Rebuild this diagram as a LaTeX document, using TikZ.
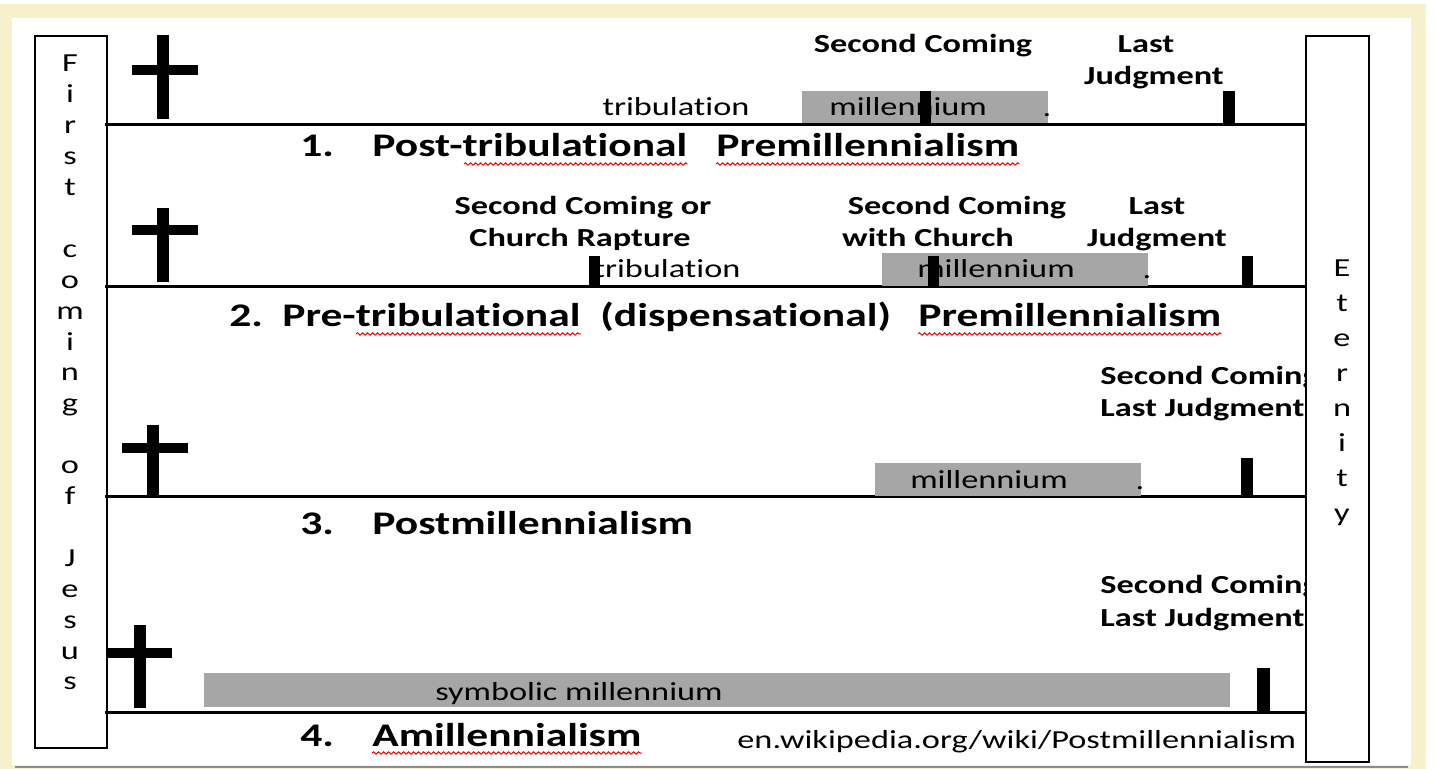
\documentclass[tikz,border=0pt]{standalone}
\usepackage{fontspec}
\setmainfont[FakeStretch=1.32,Ligatures={NoCommon,NoContextual,NoRequired}]{Carlito}
\usetikzlibrary{decorations.pathmorphing,calc}
\definecolor{cream}{RGB}{246,241,204}
\definecolor{bargray}{RGB}{166,166,166}
\definecolor{rulegray}{RGB}{140,140,140}
\tikzset{
 lbl/.style={inner sep=0pt, font=\fontsize{13}{16}\selectfont\bfseries},
 txt/.style={inner sep=0pt, font=\fontsize{13}{16}\selectfont},
 ttl/.style={inner sep=0pt, font=\fontsize{16.5}{20}\selectfont\bfseries, anchor=base west},
 bar/.style={fill=bargray, draw=none},
 tickbar/.style={fill=black, draw=none},
 timeline/.style={line width=1.5pt},
 sidebox/.style={draw=black, line width=1pt, fill=white, inner sep=0pt, anchor=north west},
 wavy/.style={draw=red, line width=0.5pt, decorate, decoration={snake, amplitude=0.6pt, segment length=2.5pt}},
}
\begin{document}
\begin{tikzpicture}[x=0.5pt,y=-0.5pt]
\useasboundingbox (0,0) rectangle (1435,769);
\fill[white] (0,0) rectangle (1435,769);
\fill[cream] (0,4) rectangle (1426,769);
\fill[white] (12,18) rectangle (1411,765);
\draw[rulegray, line width=1.2pt] (15,767) -- (1408,767);

% left box
\node[sidebox, minimum width=36pt, minimum height=356pt] (first) at (34,35) {};
\foreach \ch [count=\i from 0] in {F,i,r,s,t,{},c,o,m,i,n,g,{},o,f,{},J,e,s,u,s}
  \node[txt, anchor=base] (fl\i) at (70,{72+30.9*\i}) {\ch};

% timelines
\coordinate (l1a) at (105,125); \coordinate (l1b) at (1305,125);
\coordinate (l2a) at (105,287); \coordinate (l2b) at (1305,287);
\coordinate (l3a) at (105,497); \coordinate (l3b) at (1305,497);
\coordinate (l4a) at (105,712); \coordinate (l4b) at (1305,712);
\draw[timeline] (l1a) -- (l1b);
\draw[timeline] (l2a) -- (l2b);
\draw[timeline] (l3a) -- (l3b);
\draw[timeline] (l4a) -- (l4b);

% crosses
\fill (157,35) rectangle (169,119); \fill (132,65) rectangle (198,75);
\fill (157,208) rectangle (169,282); \fill (132,225) rectangle (198,235);
\fill (147,425) rectangle (159,497); \fill (122,443) rectangle (188,453);
\fill (134,625) rectangle (146,708); \fill (106,648) rectangle (172,658);

% ---- row 1
\path[bar] (802,91) rectangle (1048,123);
\node[txt, anchor=base] (trib1) at (676,116) {tribulation};
\node[txt, anchor=base west] (mill1) at (829,116) {millennium};
\node[txt, anchor=base] (dot1) at (1047,117) {.};
\node[lbl, anchor=base] (sc1) at (923,53) {Second Coming};
\node[lbl, anchor=base] (last1) at (1146,53) {Last};
\node[lbl, anchor=base] (jud1) at (1154,85) {Judgment};
\path[tickbar] (920,91) rectangle (931,123);
\path[tickbar] (1223,91) rectangle (1235,123);

\node[ttl] (n1) at (300,157) {1.};
\node[ttl] (t1a) at (372,157) {Post-tribulational};
\node[ttl] (t1b) at (716,157) {Premillennialism};
\draw[wavy] ($(t1a.base west)+(92,7)$) -- ($(t1a.base east)+(0,7)$);
\draw[wavy] ($(t1b.base west)+(0,7)$) -- ($(t1b.base east)+(0,7)$);

% ---- row 2
\path[bar] (882,253) rectangle (1148,286);
\node[txt, anchor=base] (trib2) at (667,278) {tribulation};
\node[txt, anchor=base] (mill2) at (996,278) {millennium};
\node[txt, anchor=base] (dot2) at (1147,279) {.};
\node[lbl, anchor=base] (sc2a) at (583,215) {Second Coming or};
\node[lbl, anchor=base] (sc2b) at (580,247) {Church Rapture};
\node[lbl, anchor=base] (sc2c) at (957,215) {Second Coming};
\node[lbl, anchor=base] (sc2d) at (928,247) {with Church};
\node[lbl, anchor=base] (last2) at (1157,215) {Last};
\node[lbl, anchor=base] (jud2) at (1157,247) {Judgment};
\path[tickbar] (589,256) rectangle (600,288);
\path[tickbar] (928,256) rectangle (939,288);
\path[tickbar] (1242,256) rectangle (1253,288);

\node[ttl] (n2) at (229,327) {2.};
\node[ttl] (t2a) at (282,327) {Pre-tribulational};
\node[ttl] (t2b) at (600,327) {(dispensational)};
\node[ttl] (t2c) at (918,327) {Premillennialism};
\draw[wavy] ($(t2a.base west)+(74,7)$) -- ($(t2a.base east)+(0,7)$);
\draw[wavy] ($(t2c.base west)+(0,7)$) -- ($(t2c.base east)+(0,7)$);

% ---- row 3
\path[bar] (875,463) rectangle (1141,496);
\node[txt, anchor=base] (mill3) at (989,489) {millennium};
\node[txt, anchor=base] (dot3) at (1140,490) {.};
\node[lbl, anchor=base west] (sc3) at (1100,385) {Second Coming};
\node[lbl, anchor=base west] (lj3) at (1100,417) {Last Judgment};
\path[tickbar] (1241,458) rectangle (1253,497);

\node[ttl] (n3) at (300,535) {3.};
\node[ttl] (t3a) at (372,535) {Postmillennialism};

% ---- row 4
\path[bar] (204,673) rectangle (1230,707);
\node[txt, anchor=base] (mill4) at (579,700) {symbolic millennium};
\node[lbl, anchor=base west] (sc4) at (1100,594) {Second Coming};
\node[lbl, anchor=base west] (lj4) at (1100,626) {Last Judgment};
\path[tickbar] (1257,668) rectangle (1270,712);

\node[ttl] (n4) at (300,746) {4.};
\node[ttl] (t4a) at (372,746) {Amillennialism};
\draw[wavy] ($(t4a.base west)+(0,7)$) -- ($(t4a.base east)+(0,7)$);
\node[txt, anchor=base west] (wiki) at (737,748) {en.wikipedia.org/wiki/Postmillennialism};

% right box
\node[sidebox, minimum width=31.5pt, minimum height=363pt] (eternity) at (1305,35) {};
\foreach \ch [count=\i from 0] in {E,t,e,r,n,i,t,y}
  \node[txt, anchor=base] (et\i) at (1342,{277+35*\i}) {\ch};
\end{tikzpicture}
\end{document}
